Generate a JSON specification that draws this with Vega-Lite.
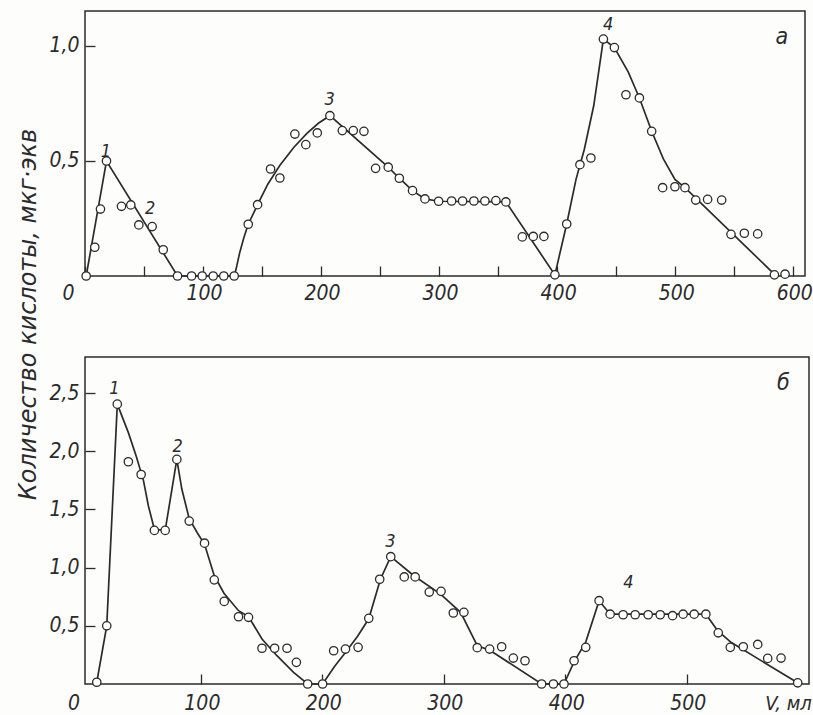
{
  "$schema": "https://vega.github.io/schema/vega-lite/v6.json",
  "background": "#fdfdfb",
  "padding": {"left": 15, "top": 10, "right": 0, "bottom": 0},
  "spacing": 81,
  "bounds": "flush",
  "datasets": {
    "obs_a": [
      {"v": 1, "val": 0}, {"v": 8.3, "val": 0.125}, {"v": 13.1, "val": 0.291}, {"v": 18.2, "val": 0.5},
      {"v": 30.9, "val": 0.303}, {"v": 38.8, "val": 0.309}, {"v": 45.6, "val": 0.222}, {"v": 56.9, "val": 0.215},
      {"v": 66.3, "val": 0.114}, {"v": 78.4, "val": 0}, {"v": 90.3, "val": 0}, {"v": 99.3, "val": 0},
      {"v": 108.6, "val": 0}, {"v": 117.6, "val": 0}, {"v": 126.4, "val": 0}, {"v": 138.3, "val": 0.225},
      {"v": 146.2, "val": 0.31}, {"v": 157.2, "val": 0.465}, {"v": 165.1, "val": 0.426}, {"v": 177.8, "val": 0.617},
      {"v": 187.1, "val": 0.571}, {"v": 196.8, "val": 0.622}, {"v": 207.5, "val": 0.697}, {"v": 218, "val": 0.632},
      {"v": 227.3, "val": 0.632}, {"v": 236.3, "val": 0.629}, {"v": 246.2, "val": 0.468}, {"v": 256.9, "val": 0.473},
      {"v": 266.3, "val": 0.425}, {"v": 277.5, "val": 0.371}, {"v": 288, "val": 0.335}, {"v": 299.6, "val": 0.325},
      {"v": 310.6, "val": 0.326}, {"v": 319.9, "val": 0.326}, {"v": 329.5, "val": 0.326}, {"v": 338.8, "val": 0.326},
      {"v": 348.1, "val": 0.328}, {"v": 356.6, "val": 0.322}, {"v": 370.5, "val": 0.17}, {"v": 379.8, "val": 0.172},
      {"v": 388.8, "val": 0.172}, {"v": 398.1, "val": 0.005}, {"v": 408.1, "val": 0.226}, {"v": 419.3, "val": 0.484},
      {"v": 428.6, "val": 0.513}, {"v": 439.2, "val": 1.03}, {"v": 448.5, "val": 0.993}, {"v": 458.3, "val": 0.788},
      {"v": 469.7, "val": 0.774}, {"v": 480.1, "val": 0.629}, {"v": 489.4, "val": 0.384}, {"v": 499.8, "val": 0.388},
      {"v": 508.3, "val": 0.384}, {"v": 517.4, "val": 0.33}, {"v": 527.5, "val": 0.333}, {"v": 539.4, "val": 0.33},
      {"v": 547.3, "val": 0.181}, {"v": 558.6, "val": 0.186}, {"v": 569.9, "val": 0.183}, {"v": 584.1, "val": 0.005},
      {"v": 593.1, "val": 0.008}
    ],
    "fit_a": [
      {"v": 1, "val": 0}, {"v": 18.2, "val": 0.5}, {"v": 78.4, "val": 0}, {"v": 126.4, "val": 0},
      {"v": 128, "val": 0.03}, {"v": 131, "val": 0.1}, {"v": 134.5, "val": 0.165}, {"v": 138.3, "val": 0.225},
      {"v": 146.2, "val": 0.31}, {"v": 155, "val": 0.4}, {"v": 165, "val": 0.48}, {"v": 177, "val": 0.56},
      {"v": 188, "val": 0.62}, {"v": 198, "val": 0.665}, {"v": 207.5, "val": 0.697}, {"v": 256.9, "val": 0.473},
      {"v": 266.3, "val": 0.425}, {"v": 277.5, "val": 0.371}, {"v": 288, "val": 0.335}, {"v": 299.6, "val": 0.325},
      {"v": 356.6, "val": 0.322}, {"v": 398.1, "val": 0.005}, {"v": 408.1, "val": 0.226}, {"v": 416, "val": 0.42},
      {"v": 423, "val": 0.55}, {"v": 431, "val": 0.74}, {"v": 439.2, "val": 1.03}, {"v": 448.5, "val": 0.993},
      {"v": 460.3, "val": 0.886}, {"v": 469.7, "val": 0.774}, {"v": 480.1, "val": 0.629}, {"v": 490, "val": 0.509},
      {"v": 499.8, "val": 0.42}, {"v": 508.3, "val": 0.384}, {"v": 584.6, "val": 0.005}
    ],
    "lab_a": [
      {"v": 17.8, "val": 0.541, "t": "1", "s": 18},
      {"v": 55.1, "val": 0.293, "t": "2", "s": 18},
      {"v": 207.2, "val": 0.763, "t": "3", "s": 18},
      {"v": 443.2, "val": 1.089, "t": "4", "s": 18},
      {"v": 590.3, "val": 1.039, "t": "а", "s": 23}
    ],
    "obs_b": [
      {"v": 14.3, "val": 0.015}, {"v": 22.5, "val": 0.5}, {"v": 31.2, "val": 2.405}, {"v": 40.3, "val": 1.91},
      {"v": 50.8, "val": 1.8}, {"v": 61.7, "val": 1.32}, {"v": 70.6, "val": 1.32}, {"v": 80.2, "val": 1.93},
      {"v": 90.4, "val": 1.4}, {"v": 103, "val": 1.21}, {"v": 111, "val": 0.895}, {"v": 119.2, "val": 0.71},
      {"v": 131, "val": 0.578}, {"v": 139.2, "val": 0.573}, {"v": 150.3, "val": 0.307}, {"v": 160.7, "val": 0.307},
      {"v": 170.9, "val": 0.307}, {"v": 178.6, "val": 0.186}, {"v": 187.9, "val": 0}, {"v": 200.2, "val": 0},
      {"v": 209.3, "val": 0.286}, {"v": 219, "val": 0.3}, {"v": 229.4, "val": 0.315}, {"v": 238.2, "val": 0.564},
      {"v": 247.2, "val": 0.9}, {"v": 256.3, "val": 1.094}, {"v": 267.4, "val": 0.92}, {"v": 276.4, "val": 0.92},
      {"v": 288, "val": 0.79}, {"v": 297.7, "val": 0.796}, {"v": 307.8, "val": 0.61}, {"v": 316.5, "val": 0.616},
      {"v": 327.5, "val": 0.312}, {"v": 337.7, "val": 0.3}, {"v": 347.6, "val": 0.32}, {"v": 357.2, "val": 0.223},
      {"v": 366.8, "val": 0.2}, {"v": 380.5, "val": 0}, {"v": 390.2, "val": 0}, {"v": 398.9, "val": 0},
      {"v": 407.2, "val": 0.2}, {"v": 416.8, "val": 0.315}, {"v": 427.8, "val": 0.716}, {"v": 436.9, "val": 0.6},
      {"v": 447.6, "val": 0.595}, {"v": 457.5, "val": 0.595}, {"v": 468.2, "val": 0.595}, {"v": 478.1, "val": 0.595},
      {"v": 488.3, "val": 0.587}, {"v": 497, "val": 0.6}, {"v": 506.1, "val": 0.6}, {"v": 515.7, "val": 0.6},
      {"v": 525.9, "val": 0.44}, {"v": 535.8, "val": 0.315}, {"v": 546.5, "val": 0.32}, {"v": 558.4, "val": 0.34},
      {"v": 566.6, "val": 0.22}, {"v": 577.6, "val": 0.223}, {"v": 591.3, "val": 0.01}
    ],
    "fit_b": [
      {"v": 14.3, "val": 0.015}, {"v": 22.5, "val": 0.5}, {"v": 31.2, "val": 2.405}, {"v": 40.3, "val": 2.16},
      {"v": 46.7, "val": 1.96}, {"v": 52.7, "val": 1.75}, {"v": 56.8, "val": 1.53}, {"v": 61.7, "val": 1.33},
      {"v": 70.6, "val": 1.32}, {"v": 80.2, "val": 1.93}, {"v": 84.3, "val": 1.675}, {"v": 90.4, "val": 1.42},
      {"v": 97, "val": 1.3}, {"v": 103, "val": 1.2}, {"v": 111, "val": 0.93}, {"v": 119, "val": 0.78},
      {"v": 131, "val": 0.63}, {"v": 139.2, "val": 0.58}, {"v": 150.3, "val": 0.387}, {"v": 162.6, "val": 0.243},
      {"v": 176.3, "val": 0.1}, {"v": 187.9, "val": 0}, {"v": 200.2, "val": 0}, {"v": 210, "val": 0.15},
      {"v": 219, "val": 0.27}, {"v": 229, "val": 0.41}, {"v": 238.2, "val": 0.56}, {"v": 247.8, "val": 0.9},
      {"v": 256.3, "val": 1.094}, {"v": 275.3, "val": 0.93}, {"v": 297.3, "val": 0.773}, {"v": 313.8, "val": 0.616},
      {"v": 327.5, "val": 0.33}, {"v": 338.5, "val": 0.286}, {"v": 380.5, "val": 0}, {"v": 398.9, "val": 0},
      {"v": 407.2, "val": 0.19}, {"v": 416.8, "val": 0.36}, {"v": 427.8, "val": 0.716}, {"v": 436.9, "val": 0.6},
      {"v": 515.7, "val": 0.6}, {"v": 525.4, "val": 0.458}, {"v": 536.4, "val": 0.358}, {"v": 591.3, "val": 0.01}
    ],
    "lab_b": [
      {"v": 28.9, "val": 2.534, "t": "1", "s": 18},
      {"v": 80.9, "val": 2.04, "t": "2", "s": 18},
      {"v": 256.1, "val": 1.216, "t": "3", "s": 18},
      {"v": 451.9, "val": 0.868, "t": "4", "s": 18},
      {"v": 579.6, "val": 2.59, "t": "б", "s": 23}
    ]
  },
  "vconcat": [
    {
      "width": 720,
      "height": 265,
      "layer": [
        {
          "data": {"name": "fit_a"},
          "mark": {"type": "line", "color": "#2b2b2b", "strokeWidth": 1.7},
          "encoding": {
            "x": {
              "field": "v", "type": "quantitative",
              "scale": {"domain": [0, 610], "nice": false, "zero": false},
              "axis": {
                "title": null,
                "values": [0, 50, 100, 150, 200, 250, 300, 350, 400, 450, 500, 550, 600],
                "labelExpr": "datum.value % 100 === 0 ? datum.label : ''",
                "labelOffset": {"condition": {"test": "datum.value === 0", "value": -17}, "value": 1},
                "labelPadding": 33,
                "labelBaseline": "alphabetic"
              }
            },
            "y": {
              "field": "val", "type": "quantitative",
              "scale": {"domain": [0, 1.152], "nice": false, "zero": false},
              "axis": {
                "values": [0.5, 1.0],
                "labelExpr": "replace(format(datum.value, '.1f'), '.', ',')",
                "labelPadding": 16,
                "title": "Количество кислоты, мкг·экв",
                "titleX": -57,
                "titleY": 303,
                "titleAngle": -90,
                "titleAlign": "center",
                "titleBaseline": "middle",
                "titleFont": "DejaVu Sans",
                "titleFontSize": 24,
                "titleFontStyle": "italic",
                "titleFontWeight": "normal",
                "titleColor": "#2b2b2b"
              }
            }
          }
        },
        {
          "data": {"name": "obs_a"},
          "mark": {"type": "point", "shape": "circle", "filled": true, "fill": "#ffffff", "stroke": "#2b2b2b", "strokeWidth": 1.3, "size": 70, "opacity": 1},
          "encoding": {
            "x": {"field": "v", "type": "quantitative"},
            "y": {"field": "val", "type": "quantitative"}
          }
        },
        {
          "data": {"name": "lab_a"},
          "mark": {"type": "text", "font": "Liberation Sans Narrow, DejaVu Sans Condensed, Liberation Sans", "fontStyle": "italic", "baseline": "middle", "align": "center", "color": "#2b2b2b"},
          "encoding": {
            "x": {"field": "v", "type": "quantitative"},
            "y": {"field": "val", "type": "quantitative"},
            "text": {"field": "t"},
            "size": {"field": "s", "type": "quantitative", "scale": null}
          }
        }
      ]
    },
    {
      "width": 724,
      "height": 327,
      "layer": [
        {
          "data": {"name": "fit_b"},
          "mark": {"type": "line", "color": "#2b2b2b", "strokeWidth": 1.7},
          "encoding": {
            "x": {
              "field": "v", "type": "quantitative",
              "scale": {"domain": [4.6, 600.6], "nice": false, "zero": false},
              "axis": {
                "values": [5, 100, 200, 300, 400, 500],
                "labelExpr": "datum.value === 5 ? '0' : datum.label",
                "labelOffset": {"condition": {"test": "datum.value === 5", "value": -12}, "value": 1},
                "tickOpacity": {"condition": {"test": "datum.value === 5", "value": 0}, "value": 1},
                "labelPadding": 35,
                "labelBaseline": "alphabetic",
                "title": "V, мл",
                "titleX": 703,
                "titleY": 25,
                "titleAlign": "center",
                "titleBaseline": "alphabetic",
                "titleFont": "Liberation Sans Narrow, DejaVu Sans Condensed, Liberation Sans",
                "titleFontSize": 20,
                "titleFontStyle": "italic",
                "titleFontWeight": "normal",
                "titleColor": "#2b2b2b"
              }
            },
            "y": {
              "field": "val", "type": "quantitative",
              "scale": {"domain": [0, 2.81], "nice": false, "zero": false},
              "axis": {
                "values": [0.5, 1.0, 1.5, 2.0, 2.5],
                "labelExpr": "replace(format(datum.value, '.1f'), '.', ',')",
                "labelPadding": 16,
                "title": null
              }
            }
          }
        },
        {
          "data": {"name": "obs_b"},
          "mark": {"type": "point", "shape": "circle", "filled": true, "fill": "#ffffff", "stroke": "#2b2b2b", "strokeWidth": 1.3, "size": 70, "opacity": 1},
          "encoding": {
            "x": {"field": "v", "type": "quantitative"},
            "y": {"field": "val", "type": "quantitative"}
          }
        },
        {
          "data": {"name": "lab_b"},
          "mark": {"type": "text", "font": "Liberation Sans Narrow, DejaVu Sans Condensed, Liberation Sans", "fontStyle": "italic", "baseline": "middle", "align": "center", "color": "#2b2b2b"},
          "encoding": {
            "x": {"field": "v", "type": "quantitative"},
            "y": {"field": "val", "type": "quantitative"},
            "text": {"field": "t"},
            "size": {"field": "s", "type": "quantitative", "scale": null}
          }
        }
      ]
    }
  ],
  "resolve": {"scale": {"x": "independent", "y": "independent"}},
  "config": {
    "view": {"stroke": "#2b2b2b", "strokeWidth": 1.5},
    "axis": {
      "domain": false,
      "grid": false,
      "tickSize": -10,
      "tickWidth": 1.3,
      "tickColor": "#2b2b2b",
      "labelFont": "Liberation Sans Narrow, DejaVu Sans Condensed, Liberation Sans",
      "labelFontSize": 21,
      "labelFontStyle": "italic",
      "labelColor": "#2b2b2b",
      "labelFlush": false,
      "labelOverlap": false
    }
  }
}
